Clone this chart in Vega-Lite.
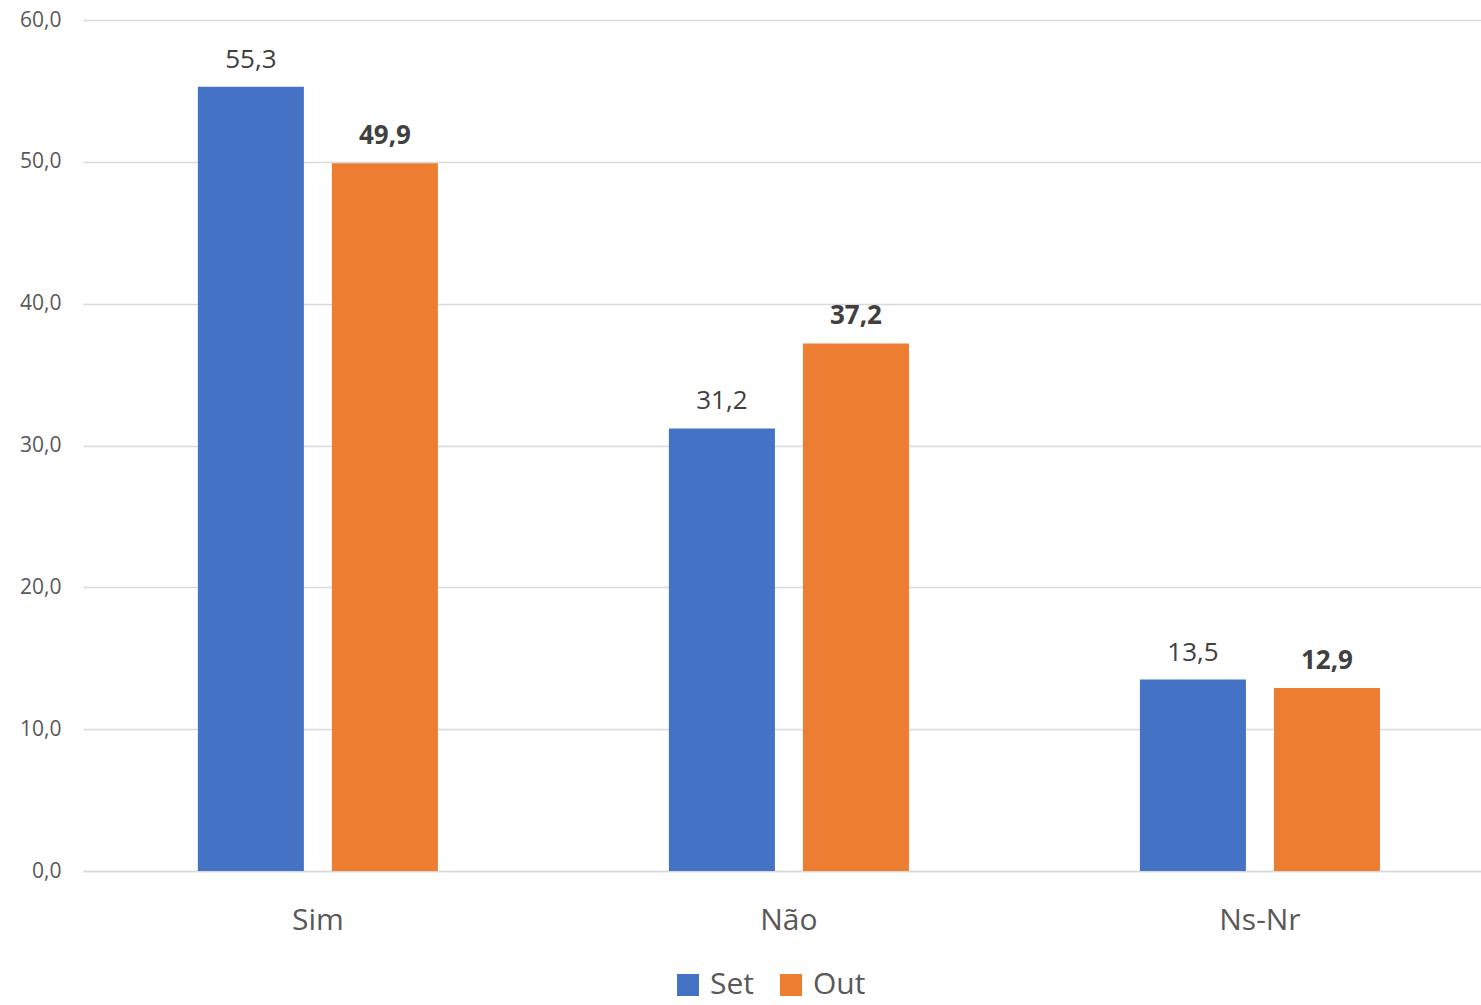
{
  "$schema": "https://vega.github.io/schema/vega-lite/v6.json",
  "width": 1398,
  "height": 851,
  "autosize": {"type": "none"},
  "padding": {"left": 83, "top": 20, "right": 0, "bottom": 134},
  "background": "white",
  "data": {
    "values": [
      {"cat": "Sim", "serie": "Set", "valor": 55.3},
      {"cat": "Sim", "serie": "Out", "valor": 49.9},
      {"cat": "Não", "serie": "Set", "valor": 31.2},
      {"cat": "Não", "serie": "Out", "valor": 37.2},
      {"cat": "Ns-Nr", "serie": "Set", "valor": 13.5},
      {"cat": "Ns-Nr", "serie": "Out", "valor": 12.9}
    ]
  },
  "encoding": {
    "x": {
      "field": "cat", "type": "nominal", "sort": ["Sim", "Não", "Ns-Nr"],
      "scale": {"paddingInner": 0.4904, "paddingOuter": 0.2292, "align": 0.532},
      "axis": {"title": null, "labelAngle": 0, "labelFontSize": 30, "labelColor": "#595959", "labelPadding": 34, "ticks": false, "domainColor": "#d9d9d9", "domainWidth": 1.5, "labelFont": "Open Sans"}
    },
    "xOffset": {
      "field": "serie", "type": "nominal", "sort": ["Set", "Out"],
      "scale": {"paddingInner": 0.209, "paddingOuter": 0}
    },
    "y": {
      "field": "valor", "type": "quantitative",
      "scale": {"domain": [0, 60]},
      "axis": {"title": null, "values": [0, 10, 20, 30, 40, 50, 60], "format": ".1f", "labelFontSize": 21, "labelColor": "#595959", "labelPadding": 22, "ticks": false, "domain": false, "gridColor": "#d9d9d9", "gridWidth": 1.5, "labelFont": "Open Sans"}
    }
  },
  "layer": [
    {
      "mark": {"type": "bar"},
      "encoding": {
        "color": {
          "field": "serie", "type": "nominal", "sort": ["Set", "Out"],
          "scale": {"domain": ["Set", "Out"], "range": ["#4472C4", "#ED7D31"]},
          "legend": {"title": null, "orient": "none", "direction": "horizontal", "legendX": 590, "legendY": 950, "symbolType": "square", "symbolSize": 484, "symbolStrokeWidth": 0, "labelFontSize": 30, "labelColor": "#595959", "labelOffset": 7, "columnPadding": 22, "labelFont": "Open Sans"}
        }
      }
    },
    {
      "transform": [{"filter": "datum.serie === 'Set'"}],
      "mark": {"type": "text", "baseline": "bottom", "dy": -14, "fontSize": 26, "color": "#404040", "font": "Open Sans"},
      "encoding": {"text": {"field": "valor", "type": "quantitative", "format": ".1f"}}
    },
    {
      "transform": [{"filter": "datum.serie === 'Out'"}],
      "mark": {"type": "text", "baseline": "bottom", "dy": -14, "fontSize": 26, "fontWeight": "bold", "color": "#404040", "font": "Open Sans"},
      "encoding": {"text": {"field": "valor", "type": "quantitative", "format": ".1f"}}
    }
  ],
  "config": {
    "view": {"stroke": null},
    "locale": {"number": {"decimal": ",", "thousands": ".", "grouping": [3], "currency": ["", ""]}}
  }
}
